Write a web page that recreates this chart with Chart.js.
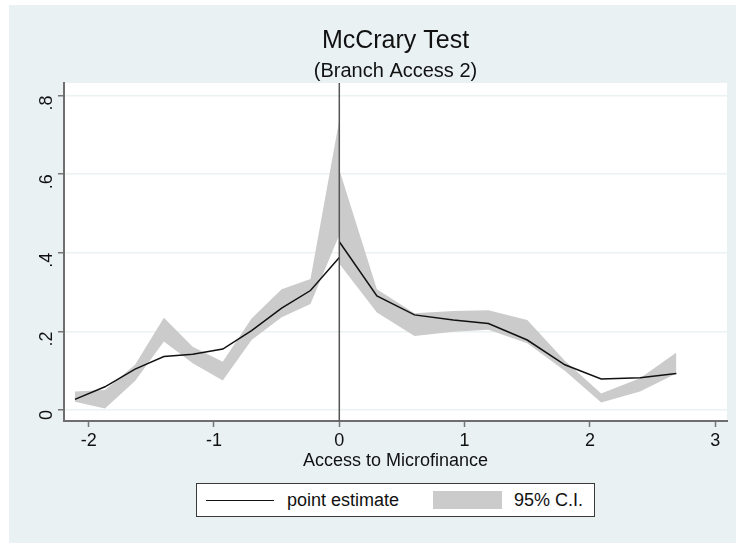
<!DOCTYPE html>
<html>
<head>
<meta charset="utf-8">
<script src="https://cdn.jsdelivr.net/npm/chart.js@4"></script>
<style>
    body { margin: 0; background: #ffffff; font-family: "Liberation Sans", Arial, sans-serif; }
    #wrap { position: relative; width: 736px; height: 543px; }
    #legend {
        position: absolute; left: 196px; top: 483px; width: 397px; height: 32px;
        background: #ffffff; border: 1.5px solid #3a3a3a;
        font-size: 18px; color: #111;
    }
    #legend .line { position: absolute; left: 9px; top: 16px; width: 68px; height: 0; border-top: 1.5px solid #111; }
    #legend .box { position: absolute; left: 236px; top: 7px; width: 69px; height: 18px; background: #cbcbcb; }
    #legend .t1 { position: absolute; left: 90px; top: 6px; }
    #legend .t2 { position: absolute; left: 317px; top: 6px; }
</style>
</head>
<body>
<div id="wrap">
    <canvas id="chart" width="736" height="543"></canvas>
    <div id="legend">
        <div class="line"></div><span class="t1">point estimate</span>
        <div class="box"></div><span class="t2">95% C.I.</span>
    </div>
</div>
<script>
// bins left of the cutoff
const xLeft = [-2.11, -1.87, -1.63, -1.40, -1.17, -0.93, -0.70, -0.46, -0.23, 0];
const estLeft = [0.027, 0.059, 0.104, 0.136, 0.142, 0.155, 0.202, 0.259, 0.304, 0.388];
const upperLeft = [0.047, 0.051, 0.115, 0.235, 0.161, 0.123, 0.233, 0.307, 0.333, 0.738];
const lowerLeft = [0.021, 0.004, 0.074, 0.174, 0.119, 0.075, 0.178, 0.236, 0.270, 0.445];

// bins right of the cutoff
const xRight = [0, 0.30, 0.60, 0.91, 1.19, 1.50, 1.80, 2.09, 2.40, 2.69];
const estRight = [0.428, 0.290, 0.242, 0.229, 0.220, 0.178, 0.115, 0.079, 0.082, 0.093];
const upperRight = [0.611, 0.307, 0.246, 0.252, 0.254, 0.229, 0.125, 0.042, 0.081, 0.146];
const lowerRight = [0.372, 0.248, 0.188, 0.199, 0.204, 0.170, 0.100, 0.019, 0.047, 0.093];

const xTicks = [-2, -1, 0, 1, 2, 3];
const yTicks = [0, 0.2, 0.4, 0.6, 0.8];
const cutoff = 0;

const font = '"Liberation Sans", Arial, sans-serif';
const outerColor = '#e9f1f3';
const bandColor = '#cbcbcb';

function pts(xs, ys) {
    return xs.map((x, i) => ({ x: x, y: ys[i] }));
}

// background, white plot region and cutoff line
const decor = {
    id: 'decor',
    beforeDraw(chart) {
        const ctx = chart.ctx;
        const a = chart.chartArea;
        ctx.save();
        ctx.fillStyle = '#ffffff';
        ctx.fillRect(0, 0, chart.width, chart.height);
        ctx.fillStyle = outerColor;
        ctx.fillRect(9, 5, chart.width - 9, chart.height - 5);
        ctx.fillStyle = '#ffffff';
        ctx.fillRect(a.left, a.top, a.right - a.left, a.bottom - a.top);
        ctx.restore();
    },
    afterDatasetsDraw(chart) {
        const ctx = chart.ctx;
        const a = chart.chartArea;
        const x = chart.scales.x.getPixelForValue(cutoff);
        ctx.save();
        ctx.strokeStyle = '#555555';
        ctx.lineWidth = 1.5;
        ctx.beginPath();
        ctx.moveTo(x, a.top);
        ctx.lineTo(x, a.bottom);
        ctx.stroke();
        ctx.restore();
    }
};

const lineStyle = { borderColor: '#111111', borderWidth: 1.5, pointRadius: 0, fill: false, tension: 0 };
const bandStyle = { borderWidth: 0, pointRadius: 0, backgroundColor: bandColor, borderColor: bandColor, tension: 0 };

new Chart(document.getElementById('chart'), {
    type: 'line',
    data: {
        datasets: [
            Object.assign({ label: 'point estimate', data: pts(xLeft, estLeft) }, lineStyle),
            Object.assign({ label: 'point estimate', data: pts(xRight, estRight) }, lineStyle),
            Object.assign({ label: 'lower', data: pts(xLeft, lowerLeft), fill: false }, bandStyle),
            Object.assign({ label: '95% C.I.', data: pts(xLeft, upperLeft), fill: 2 }, bandStyle),
            Object.assign({ label: 'lower', data: pts(xRight, lowerRight), fill: false }, bandStyle),
            Object.assign({ label: '95% C.I.', data: pts(xRight, upperRight), fill: 4 }, bandStyle)
        ]
    },
    options: {
        responsive: false,
        animation: false,
        layout: { padding: { left: 0, right: 9, top: 0, bottom: 68 } },
        plugins: {
            legend: { display: false },
            tooltip: { enabled: false },
            title: {
                display: true,
                fullSize: false,
                text: 'McCrary Test',
                color: '#111',
                font: { family: font, size: 25, weight: 'normal' },
                padding: { top: 26, bottom: 3 }
            },
            subtitle: {
                display: true,
                fullSize: false,
                text: '(Branch Access 2)',
                color: '#111',
                font: { family: font, size: 20, weight: 'normal' },
                padding: { top: 0, bottom: 0 }
            }
        },
        scales: {
            x: {
                type: 'linear',
                min: -2.197,
                max: 3.094,
                afterBuildTicks: s => { s.ticks = xTicks.map(v => ({ value: v })); },
                afterFit: s => { s.height = 54; },
                ticks: {
                    color: '#111',
                    font: { family: font, size: 18 },
                    padding: 3,
                    maxRotation: 0,
                    callback: v => String(v)
                },
                grid: { drawOnChartArea: false, tickLength: 6, tickColor: '#777777', tickWidth: 1.5 },
                border: { color: '#6e6e6e', width: 2 },
                title: {
                    display: true,
                    text: 'Access to Microfinance',
                    color: '#111',
                    font: { family: font, size: 18 },
                    padding: { top: 0, bottom: 3 }
                }
            },
            y: {
                type: 'linear',
                min: -0.028,
                max: 0.832,
                afterBuildTicks: s => { s.ticks = yTicks.map(v => ({ value: v })); },
                afterFit: s => { s.width = 64; },
                ticks: {
                    color: '#111',
                    font: { family: font, size: 18 },
                    padding: 11,
                    minRotation: 90,
                    maxRotation: 90,
                    callback: v => v === 0 ? '0' : v.toFixed(1).replace(/^0/, '')
                },
                grid: { color: '#eaf2f3', lineWidth: 1.5, tickLength: 6, tickColor: '#777777', tickWidth: 1.5 },
                border: { color: '#6e6e6e', width: 2 }
            }
        }
    },
    plugins: [decor]
});
</script>
</body>
</html>
